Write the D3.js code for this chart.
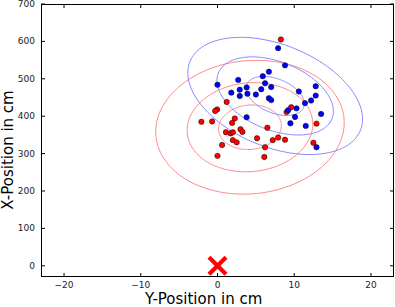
<!DOCTYPE html>
<html><head><meta charset="utf-8">
<script src="https://cdn.jsdelivr.net/npm/d3@7"></script>
<style>body{margin:0;background:#fff;}svg{display:block;}text{font-family:"DejaVu Sans",sans-serif;}</style>
</head><body>
<svg id="c" width="395" height="307"></svg>
<script>
// Red series (Y-position cm, X-position cm)
const redY = [8.26,1.2,-0.05,-0.3,-2.1,-0.7,2.25,1.9,3.0,3.25,1.1,1.7,2.0,2.0,2.5,0.6,5.15,6.5,6.2,7.2,7.9,8.8,9.0,9.6,12.9,12.5,0,6.1];
const redX = [605,438,418,414,385,386,394,382,365,358,357,354,357,336,330,323,341,369,317,336,343,337,411,424,380,329,294,291];
// Blue series
const blueY = [7.9,8.8,0,2.7,5.9,6.7,6.2,1.8,2.9,3.8,2.9,3.9,5.0,5.7,7.0,6.7,7.0,10.6,12.8,12.8,12.2,11.4,13.5,10.3,9.2,10.1,3.8,9.5,11.5,12.9];
const blueX = [582,536,484,497,507,519,488,463,471,477,454,460,458,472,478,448,443,466,480,455,442,435,406,421,416,398,397,381,374,317];
const nStd = [1,2,3];
const xTicks = [-20,-10,0,10,20];
const yTicks = [0,100,200,300,400,500,600,700];
const target = [[0,0]];

const svg = d3.select("#c");
const L=41,R=394,T=4,B=277;
const x = d3.scaleLinear().domain([-23,23]).range([L,R]);
const y = d3.scaleLinear().domain([-30,700]).range([B,T]);

svg.append("defs").append("clipPath").attr("id","clp").append("rect")
  .attr("x",L).attr("y",T).attr("width",R-L).attr("height",B-T);
const g = svg.append("g").attr("clip-path","url(#clp)");

function drawEll(xs,ys,color){
  const n = xs.length;
  const mx = d3.mean(xs), my = d3.mean(ys);
  let a=0,b=0,c=0;
  for(let i=0;i<n;i++){const dx=xs[i]-mx, dy=ys[i]-my; a+=dx*dx; b+=dx*dy; c+=dy*dy;}
  a/=(n-1); b/=(n-1); c/=(n-1);
  const h=(a+c)/2, d=Math.sqrt(((a-c)/2)**2+b*b);
  const l1=h+d, l2=h-d;
  let v1 = Math.abs(b)>1e-12 ? [b, l1-a] : (a>=c?[1,0]:[0,1]);
  const nv=Math.hypot(v1[0],v1[1]); v1=[v1[0]/nv, v1[1]/nv];
  const v2=[-v1[1], v1[0]];
  const line = d3.line().x(p=>x(p[0])).y(p=>y(p[1])).curve(d3.curveLinearClosed);
  nStd.forEach(k=>{
    const pts = d3.range(0,360,2).map(t=>{
      const r=t*Math.PI/180, ca=k*Math.sqrt(l1)*Math.cos(r), sb=k*Math.sqrt(l2)*Math.sin(r);
      return [mx+ca*v1[0]+sb*v2[0], my+ca*v1[1]+sb*v2[1]];
    });
    g.append("path").attr("d", line(pts)).attr("fill","none")
      .attr("stroke", color).attr("stroke-width",1);
  });
}
drawEll(redY, redX, "#ff8888");
drawEll(blueY, blueX, "#8888ff");

// points
g.selectAll("circle.r").data(d3.zip(redY, redX)).join("circle")
  .attr("cx",d=>x(d[0])).attr("cy",d=>y(d[1])).attr("r",2.7)
  .attr("fill","#ff0000").attr("stroke","#000").attr("stroke-width",0.5);
g.selectAll("circle.b").data(d3.zip(blueY, blueX)).join("circle")
  .attr("cx",d=>x(d[0])).attr("cy",d=>y(d[1])).attr("r",2.7)
  .attr("fill","#0000ff").attr("stroke","#000").attr("stroke-width",0.5);

// target marker
target.forEach(p=>{
  const cx=x(p[0]), cy=y(p[1]), s=8.5;
  svg.append("path").attr("d",`M${cx-s},${cy-s}L${cx+s},${cy+s}M${cx-s},${cy+s}L${cx+s},${cy-s}`)
    .attr("stroke","#ff0000").attr("stroke-width",4.2).attr("fill","none");
});

// axes frame with inward ticks
const tl=4;
const ax = svg.append("g");
xTicks.forEach(t=>{
  ax.append("line").attr("x1",x(t)).attr("x2",x(t)).attr("y1",B).attr("y2",B-tl).attr("stroke","#000");
  ax.append("line").attr("x1",x(t)).attr("x2",x(t)).attr("y1",T).attr("y2",T+tl).attr("stroke","#000");
  ax.append("text").attr("x",x(t)).attr("y",288).attr("text-anchor","middle")
    .attr("font-size",9).attr("fill","#222").text(t<0?"\u2212"+(-t):t);
});
yTicks.forEach(t=>{
  ax.append("line").attr("y1",y(t)).attr("y2",y(t)).attr("x1",L).attr("x2",L+tl).attr("stroke","#000");
  ax.append("line").attr("y1",y(t)).attr("y2",y(t)).attr("x1",R).attr("x2",R-tl).attr("stroke","#000");
  ax.append("text").attr("x",35).attr("y",y(t)).attr("dy","0.33em").attr("text-anchor","end")
    .attr("font-size",9).attr("fill","#222").text(t);
});
ax.append("rect").attr("x",L+0.5).attr("y",T+0.5).attr("width",R-L-1).attr("height",B-T-1)
  .attr("fill","none").attr("stroke","#000").attr("stroke-width",1);

svg.append("text").attr("x",145).attr("y",304).attr("font-size",15).attr("fill","#000")
  .text("Y-Position in cm");
svg.append("text").attr("transform","translate(12.5,150) rotate(-90)").attr("text-anchor","middle")
  .attr("font-size",15).attr("fill","#000").text("X-Position in cm");
</script>
</body></html>
